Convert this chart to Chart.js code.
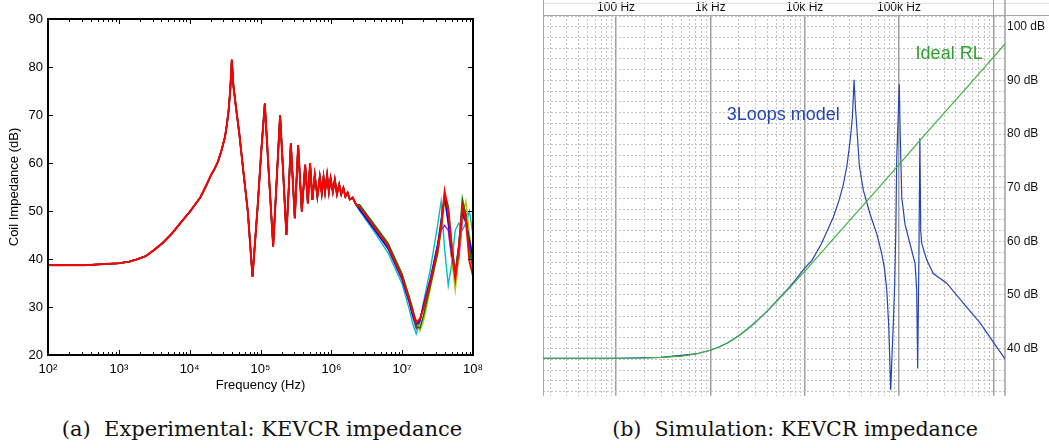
<!DOCTYPE html>
<html><head><meta charset="utf-8">
<script src="https://cdn.jsdelivr.net/npm/chart.js@4.4.1/dist/chart.umd.min.js"></script>
<style>
html,body{margin:0;padding:0;background:#fff;}
body{width:1049px;height:448px;position:relative;overflow:hidden;}
canvas{position:absolute;top:0;}
#expChart{left:0;}
#simChart{left:530px;}
.cap{position:absolute;top:416px;font-family:"DejaVu Serif",serif;font-size:20.6px;color:#111;white-space:pre;line-height:26px;text-align:center;}
</style></head>
<body>
<canvas id="expChart" width="530" height="400"></canvas>
<canvas id="simChart" width="519" height="405"></canvas>
<div class="cap" style="left:0;width:524px;font-size:21px">(a)  Experimental: KEVCR impedance</div>
<div class="cap" style="left:560px;width:470px">(b)  Simulation: KEVCR impedance</div>
<script>
// ---------- (a) Experimental data ----------
const expFreqLow = [100, 316, 1000, 1400, 1780, 2400, 3160, 4200, 5620, 7500, 10000, 12000, 14100, 17000, 20000, 22500, 25100, 28000, 31600, 33500, 35500, 37500, 39300, 41500, 44700, 50100, 57500, 66100, 77100, 83200, 91200, 102000, 115000, 132000, 151000, 170000, 189000, 209000, 232000, 251000, 268000, 305000, 340000, 383000, 427000, 466000, 501000, 540000, 583000, 635000, 687000, 733000, 776000, 815000, 871000, 923000, 977000, 1050000, 1120000, 1200000, 1290000, 1380000, 1480000, 1580000, 1700000, 1820000, 2000000, 2240000];
const expDbLow = [38.7, 38.7, 39.1, 39.45, 39.9, 40.6, 41.9, 43.4, 45.3, 47.6, 49.8, 51.4, 52.8, 55.2, 57.5, 58.8, 60.3, 62.5, 65.5, 68.0, 71.0, 75.5, 81.5, 76.0, 72.0, 66.2, 58.0, 50.0, 36.3, 43.0, 51.0, 62.0, 72.4, 57.0, 42.6, 57.0, 70.0, 58.0, 45.0, 55.0, 64.1, 48.5, 63.7, 49.9, 59.6, 51.6, 60.0, 52.3, 57.5, 53.0, 57.1, 53.7, 57.0, 54.0, 57.5, 54.0, 56.8, 54.0, 56.5, 53.5, 55.5, 53.5, 54.8, 53.0, 53.8, 52.4, 52.8, 51.3];
const expFreqHigh = [2510000, 3980000, 6310000, 10000000, 12600000, 14100000, 15800000, 17800000, 20000000, 25100000, 31600000, 35500000, 39800000, 44700000, 50100000, 56200000, 63100000, 70800000, 79400000, 89100000, 100000000];
const expRed     = [50.8, 46.8, 42.7, 36.2, 31.5, 29.0, 26.8, 27.5, 29.8, 35.2, 42.0, 47.0, 54.0, 50.0, 42.5, 36.0, 42.0, 51.0, 48.0, 39.5, 36.5];
const expBlue    = [50.3, 46.3, 42.2, 35.7, 31.0, 28.3, 26.3, 27.2, 30.2, 35.8, 42.8, 48.0, 53.0, 47.5, 41.0, 36.8, 43.0, 50.0, 47.5, 44.0, 40.0];
const expGreen   = [51.3, 47.3, 43.3, 36.8, 32.0, 29.6, 26.0, 25.6, 28.2, 34.6, 41.2, 46.5, 53.5, 51.0, 43.0, 37.2, 42.5, 52.5, 49.0, 42.0, 38.0];
const expCyan    = [50.0, 45.8, 41.3, 34.8, 29.5, 26.5, 24.4, 27.0, 31.0, 38.0, 47.0, 52.0, 42.0, 34.5, 39.0, 46.0, 47.5, 46.0, 47.5, 50.0, 45.0];
const expMagenta = [50.5, 46.5, 42.4, 36.0, 31.0, 28.0, 25.5, 27.0, 30.5, 36.0, 43.0, 46.0, 47.0, 46.0, 40.0, 36.0, 40.0, 48.0, 50.0, 43.0, 39.0];
const expYellow  = [51.0, 47.0, 43.0, 36.5, 32.0, 29.5, 27.2, 25.0, 27.0, 34.0, 41.0, 46.0, 52.0, 48.0, 40.0, 33.5, 41.0, 49.0, 52.0, 45.0, 40.0];
const expTickExp = [2, 3, 4, 5, 6, 7, 8];
const expYTicks = [20, 30, 40, 50, 60, 70, 80, 90];

// ---------- (b) Simulation data ----------
const rlFreq = [16.8, 50, 100, 200, 300, 500, 700, 1000, 1200, 1500, 1700, 2000, 2500, 3000, 3500, 4000, 5000, 6000, 7000, 8500, 10000, 12000, 15000, 20000, 30000, 50000, 100000, 200000, 500000, 1000000, 1330000];
const rlDb   = [38.2, 38.2, 38.2, 38.25, 38.35, 38.6, 39.0, 39.7, 40.2, 41.0, 41.6, 42.4, 43.7, 44.9, 46.0, 47.0, 48.7, 50.2, 51.4, 53.1, 54.4, 56.0, 57.9, 60.4, 63.9, 68.3, 74.3, 80.4, 88.3, 94.3, 96.8];
const loopFreq = [16.8, 100, 300, 700, 1000, 1200, 1500, 1700, 2000, 2500, 3000, 3500, 4000, 5000, 6000, 7000, 8500, 10000, 12000, 15000, 20100, 23000, 25700, 28000, 30300, 32000, 33400, 34500, 35600, 38000, 41900, 49300, 58100, 65600, 70000, 74100, 77800, 81700, 84000, 87100, 90000, 92500, 94600, 97500, 100600, 103000, 107000, 115700, 130600, 147800, 154000, 157800, 162500, 166500, 170000, 174000, 197000, 231000, 320000, 481000, 723000, 1000000, 1330000];
const loopDb   = [38.2, 38.2, 38.35, 39.0, 39.7, 40.2, 41.0, 41.6, 42.4, 43.7, 44.9, 46.0, 47.0, 48.8, 50.3, 51.6, 53.4, 55.0, 56.5, 59.5, 64.5, 67.5, 70.6, 74.0, 78.7, 83.0, 90.1, 85.0, 81.6, 74.0, 69.5, 65.1, 61.4, 57.7, 55.0, 51.1, 44.3, 32.3, 38.0, 44.9, 52.0, 62.0, 75.5, 82.0, 89.3, 80.0, 68.2, 63.2, 59.6, 55.9, 51.0, 36.3, 57.0, 79.2, 62.0, 59.6, 56.5, 54.0, 52.2, 48.5, 44.8, 41.2, 38.1];
const simMajorFreq = [100, 1000, 10000, 100000, 1000000];
const simFreqLabels = ['100 Hz', '1k Hz', '10k Hz', '100k Hz', ''];
const simDbTicks = [40, 50, 60, 70, 80, 90, 100];
const simNotes = ['3Loops model', 'Ideal RL'];

// ---------- styles ----------
Chart.defaults.font.family = '"Liberation Sans", Arial, sans-serif';
Chart.defaults.color = '#000';
const expStyles = [
  {name:'red', data: expRed, color:'#ff0000', width:2},
  {name:'green', data: expGreen, color:'#008000', width:1.6},
  {name:'blue', data: expBlue, color:'#0000ff', width:1.6},
  {name:'yellow', data: expYellow, color:'#bfbf00', width:1.4},
  {name:'magenta', data: expMagenta, color:'#bf00bf', width:1.4},
  {name:'cyan', data: expCyan, color:'#00bfbf', width:1.4}
];
const SUP = {2:'\u00B2',3:'\u00B3',4:'\u2074',5:'\u2075',6:'\u2076',7:'\u2077',8:'\u2078'};

function buildExp(hi){
  return expFreqLow.map((f,i)=>({x:f,y:expDbLow[i]}))
    .concat(expFreqHigh.map((f,i)=>({x:f,y:hi[i]})));
}

const boxPlugin = {
  id:'box',
  afterDraw(chart){
    const {ctx, chartArea:{left,right,top,bottom}, scales:{x,y}} = chart;
    ctx.save();
    ctx.strokeStyle = '#000';
    ctx.lineWidth = 1;
    ctx.beginPath();
    for (let e = 2; e <= 8; e++) {
      for (let k = 1; k <= 9; k++) {
        const v = k * Math.pow(10, e);
        if (v > 1e8) break;
        const px = Math.round(x.getPixelForValue(v)) + 0.5;
        const len = k === 1 ? 5 : 3;
        ctx.moveTo(px, bottom); ctx.lineTo(px, bottom - len);
        ctx.moveTo(px, top); ctx.lineTo(px, top + len);
      }
    }
    expYTicks.forEach(v=>{
      const py = Math.round(y.getPixelForValue(v)) + 0.5;
      ctx.moveTo(left, py); ctx.lineTo(left + 5, py);
      ctx.moveTo(right, py); ctx.lineTo(right - 5, py);
    });
    ctx.stroke();
    ctx.lineWidth = 2;
    ctx.strokeRect(left, top, right - left, bottom - top);
    ctx.restore();
  }
};

new Chart(document.getElementById('expChart'), {
  type:'line',
  data:{datasets: expStyles.map(s=>({label:s.name, data: buildExp(s.data), borderColor:s.color, borderWidth:s.width, pointRadius:0, tension:0, fill:false}))},
  options:{
    responsive:false, animation:false, events:[],
    plugins:{legend:{display:false}, tooltip:{enabled:false}},
    layout:{padding:{top:19, right:57, bottom:0, left:0}},
    scales:{
      x:{type:'logarithmic', min:100, max:1e8, position:'bottom',
        afterBuildTicks: s=>{ s.ticks = expTickExp.map(e=>({value:Math.pow(10,e)})); },
        ticks:{callback:(v)=>'10' + SUP[Math.round(Math.log10(v))], font:{size:13}, color:'#000', padding:7, autoSkip:false, maxRotation:0},
        grid:{display:false, drawTicks:false}, border:{display:false},
        title:{display:true, text:'Frequency (Hz)', font:{size:13}, color:'#000', padding:{top:0, bottom:7}},
        afterFit: s=>{ s.height = 45; }
      },
      y:{min:20, max:90,
        afterBuildTicks: s=>{ s.ticks = expYTicks.map(v=>({value:v})); },
        ticks:{font:{size:13}, color:'#000', padding:5},
        grid:{display:false, drawTicks:false}, border:{display:false},
        title:{display:true, text:'Coil Impedance (dB)', font:{size:13}, color:'#000', padding:{top:7, bottom:0}},
        afterFit: s=>{ s.width = 48; }
      }
    }
  },
  plugins:[boxPlugin]
});

// ---------- (b) ----------
const simFrame = {
  id:'simFrame',
  beforeDatasetsDraw(chart){
    const {ctx, chartArea:{left,right,top,bottom}, scales:{x}} = chart;
    const W = chart.width;
    ctx.save();
    ctx.strokeStyle = '#e2e2e2'; ctx.lineWidth = 1;
    ctx.beginPath(); ctx.moveTo(left, 3.5); ctx.lineTo(W, 3.5); ctx.stroke();
    ctx.strokeStyle = '#a6a6a6';
    ctx.beginPath();
    ctx.moveTo(left + 0.5, 0); ctx.lineTo(left + 0.5, bottom);
    ctx.moveTo(left, top + 0.5); ctx.lineTo(W, top + 0.5);
    const pm = Math.round(x.getPixelForValue(1e6)) + 0.5;
    ctx.moveTo(pm, 0); ctx.lineTo(pm, top);
    ctx.stroke();
    ctx.lineWidth = 1.6;
    ctx.beginPath(); ctx.moveTo(right, 0); ctx.lineTo(right, bottom); ctx.stroke();
    ctx.restore();
  }
};
const simText = {
  id:'simText',
  afterDatasetsDraw(chart){
    const {ctx, scales:{x,y}} = chart;
    const notePos = [[1490, 83.5, '#2346b0'], [150000, 95.0, '#2ea02e']];
    ctx.save();
    ctx.font = '18px "Liberation Sans", Arial, sans-serif';
    ctx.textAlign = 'left'; ctx.textBaseline = 'middle';
    simNotes.forEach((t,i)=>{
      ctx.fillStyle = notePos[i][2];
      ctx.fillText(t, x.getPixelForValue(notePos[i][0]), y.getPixelForValue(notePos[i][1]));
    });
    ctx.restore();
  }
};
const minorTicks = [];
for (let e = 1; e <= 5; e++) for (let k = 2; k <= 9; k++) {
  const v = k * Math.pow(10, e);
  if (v >= 16.8 && v <= 1.33e6) minorTicks.push(v);
}
const gridDb = [];
for (let v = 32; v <= 102; v += 2) gridDb.push(v);

new Chart(document.getElementById('simChart'), {
  type:'line',
  data:{datasets:[
    {label:'Ideal RL', data: rlFreq.map((f,i)=>({x:f,y:rlDb[i]})), borderColor:'#3cb43c', borderWidth:1.2, pointRadius:0, tension:0},
    {label:'3Loops model', data: loopFreq.map((f,i)=>({x:f,y:loopDb[i]})), borderColor:'#2546b2', borderWidth:1.2, pointRadius:0, tension:0}
  ]},
  options:{
    responsive:false, animation:false, events:[],
    plugins:{legend:{display:false}, tooltip:{enabled:false}},
    layout:{padding:{left:13, top:0, right:0, bottom:4}},
    scales:{
      x:{type:'logarithmic', min:16.8, max:1.33e6, position:'bottom',
        afterBuildTicks: s=>{ s.ticks = minorTicks.map(v=>({value:v})); },
        ticks:{display:false},
        grid:{color:'#c2c2c2', lineWidth:1, drawTicks:false},
        border:{display:false, dash:[2,2]},
        afterFit: s=>{ s.height = 0; }
      },
      xTop:{type:'logarithmic', min:16.8, max:1.33e6, position:'top',
        afterBuildTicks: s=>{ s.ticks = simMajorFreq.map(v=>({value:v})); },
        ticks:{callback:(v,i)=>simFreqLabels[i], font:{size:12}, color:'#111', padding:0, autoSkip:false, maxRotation:0},
        grid:{color:'#a0a0a0', lineWidth:1.5, drawTicks:false},
        border:{display:false},
        afterFit: s=>{ s.height = 15; }
      },
      y:{min:31.2, max:102.2,
        afterBuildTicks: s=>{ s.ticks = gridDb.map(v=>({value:v})); },
        ticks:{display:false},
        grid:{color:'#c2c2c2', lineWidth:1, drawTicks:false},
        border:{display:false, dash:[2,2]},
        afterFit: s=>{ s.width = 0; }
      },
      yRight:{position:'right', min:31.2, max:102.2,
        afterBuildTicks: s=>{ s.ticks = simDbTicks.map(v=>({value:v})); },
        ticks:{callback:v=>v + ' dB', font:{size:12}, color:'#111', padding:2},
        grid:{display:false, drawTicks:false},
        border:{display:false},
        afterFit: s=>{ s.width = 44; }
      }
    }
  },
  plugins:[simFrame, simText]
});
</script>
</body></html>
